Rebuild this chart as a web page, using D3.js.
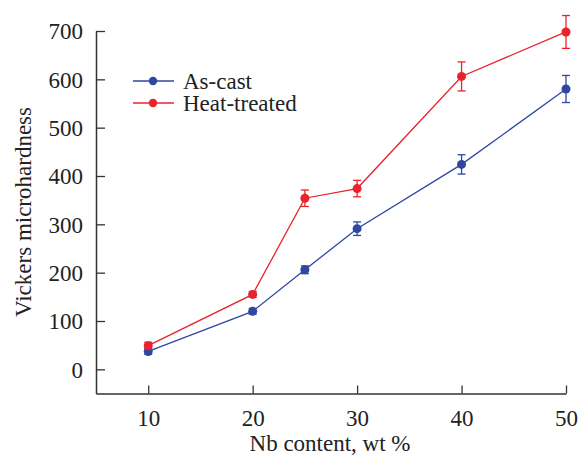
<!DOCTYPE html>
<html><head><meta charset="utf-8">
<script src="https://cdn.jsdelivr.net/npm/d3@7"></script>
<style>body{margin:0;background:#fff}</style>
</head><body>
<svg id="c" width="579" height="456" font-family="Liberation Serif" font-size="23"></svg>
<script>
const nbContent = [10, 20, 25, 30, 40, 50];
const asCast = [37, 120, 206, 291, 424, 580];
const asCastErr = [6, 6, 8, 14, 20, 28];
const heatTreated = [49, 155, 354, 374, 606, 698];
const heatTreatedErr = [7, 6, 17, 17, 30, 34];
const xTicks = [10, 20, 30, 40, 50];
const yTicks = [0, 100, 200, 300, 400, 500, 600, 700];
const seriesNames = ["As-cast", "Heat-treated"];
const colors = ["#2f47a3", "#e8232c"];

const svg = d3.select("#c");
const x = d3.scaleLinear().domain([5, 50]).range([96, 566]);
const y = d3.scaleLinear().domain([-50, 700]).range([393.5, 31]);
const axisColor = "#333";
const textColor = "#222";

// axes
const gx = svg.append("g").attr("transform", `translate(0,${y(-50)})`)
  .call(d3.axisBottom(x).tickValues(xTicks).tickSize(-8).tickPadding(16).tickSizeOuter(0));
const gy = svg.append("g").attr("transform", `translate(${x(5)},0)`)
  .call(d3.axisLeft(y).tickValues(yTicks).tickSize(-9).tickPadding(13).tickSizeOuter(0));
[gx, gy].forEach(g => {
  g.attr("font-family", null).attr("font-size", null);
  g.select(".domain").attr("stroke", axisColor).attr("stroke-width", 1.5);
  g.selectAll(".tick line").attr("stroke", axisColor).attr("stroke-width", 1.3);
  g.selectAll(".tick text").attr("fill", textColor);
});
gy.selectAll(".tick text").attr("dy", "0.34em");

svg.append("text").attr("x", 330).attr("y", 451).attr("text-anchor", "middle").attr("fill", textColor)
  .text("Nb content, wt %");
svg.append("text").attr("transform", "translate(31,212) rotate(-90)").attr("text-anchor", "middle").attr("fill", textColor)
  .text("Vickers microhardness");

const series = [
  {vals: asCast, errs: asCastErr, color: colors[0]},
  {vals: heatTreated, errs: heatTreatedErr, color: colors[1]}
];
const line = d3.line().x(d => x(d[0])).y(d => y(d[1]));
series.forEach(s => {
  const pts = nbContent.map((n, i) => [n, s.vals[i], s.errs[i]]);
  const g = svg.append("g");
  g.append("path").datum(pts).attr("d", line).attr("fill", "none")
    .attr("stroke", s.color).attr("stroke-width", 1.3);
  const eb = g.selectAll(".eb").data(pts).enter().append("g");
  eb.append("line").attr("x1", d => x(d[0])).attr("x2", d => x(d[0]))
    .attr("y1", d => y(d[1] + d[2])).attr("y2", d => y(d[1] - d[2]))
    .attr("stroke", s.color).attr("stroke-width", 1.3);
  [1, -1].forEach(sg => {
    eb.append("line").attr("x1", d => x(d[0]) - 4).attr("x2", d => x(d[0]) + 4)
      .attr("y1", d => y(d[1] + sg * d[2])).attr("y2", d => y(d[1] + sg * d[2]))
      .attr("stroke", s.color).attr("stroke-width", 1.3);
  });
  g.selectAll(".pt").data(pts).enter().append("circle")
    .attr("cx", d => x(d[0])).attr("cy", d => y(d[1])).attr("r", 4.5).attr("fill", s.color);
});

// legend
const leg = svg.append("g");
seriesNames.forEach((name, i) => {
  const ly = 81 + i * 22;
  leg.append("line").attr("x1", 133).attr("x2", 174).attr("y1", ly).attr("y2", ly)
    .attr("stroke", colors[i]).attr("stroke-width", 1.3);
  leg.append("circle").attr("cx", 153).attr("cy", ly).attr("r", 4.2).attr("fill", colors[i]);
  leg.append("text").attr("x", 183).attr("y", ly).attr("dy", "0.34em").attr("fill", textColor).text(name);
});
</script>
</body></html>
